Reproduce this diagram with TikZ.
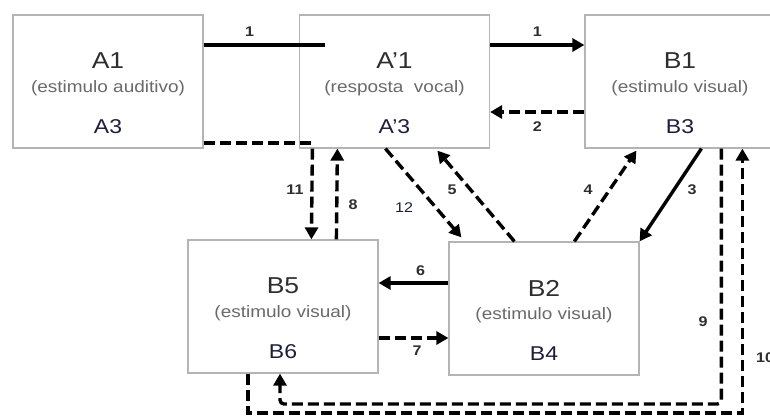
\documentclass[tikz,border=0pt]{standalone}
\usepackage{fontspec}
\setmainfont{Liberation Sans}[FakeStretch=1.15]
\usetikzlibrary{arrows.meta}
\definecolor{boxgray}{HTML}{B4B4B4}
\definecolor{titlegray}{HTML}{2E2E2E}
\definecolor{subgray}{HTML}{6A6A6A}
\definecolor{codeblue}{HTML}{1E1E3C}
\begin{document}
\begin{tikzpicture}[x=1pt,y=1pt,
  box/.style={draw=boxgray,line width=1.2pt,fill=white,minimum width=190pt,minimum height=133pt,inner sep=0pt},
  title/.style={text=titlegray,font=\fontsize{23}{25}\selectfont,inner sep=0pt},
  sub/.style={text=subgray,font=\fontsize{16.5}{18}\selectfont,inner sep=0pt},
  code/.style={text=codeblue,font=\fontsize{20}{22}\selectfont,inner sep=0pt},
  num/.style={text=titlegray,font=\fontsize{14}{15}\selectfont\bfseries,inner sep=1pt},
  fullline/.style={line width=3.4pt},
  dashline/.style={line width=3.4pt,dash pattern=on 11pt off 5pt},
  tip/.style={-{Triangle[length=12pt,width=13pt]}}]
  \useasboundingbox (0,0) rectangle (770,416);
  \clip (0,0) rectangle (770,416);

  \node[box] (A1) at (108,334.5) {};
  \node[box] (Ap1) at (394.5,334.5) {};
  \node[box] (B1) at (680,334.5) {};
  \node[box] (B5) at (283,109.5) {};
  \node[box] (B2) at (544,107.5) {};

  \foreach \n/\t/\s/\c in {A1/A1/{(estimulo auditivo)}/A3, Ap1/A'1/{(resposta\ \ vocal)}/A'3,
      B1/B1/{(estimulo visual)}/B3, B5/B5/{(estimulo visual)}/B6, B2/B2/{(estimulo visual)}/B4}{
    \node[title] (\n-t) at ([yshift=20.5pt]\n.center) {\t};
    \node[sub] (\n-s) at ([yshift=-6.5pt]\n.center) {\s};
    \node[code] (\n-c) at ([yshift=-45.5pt]\n.center) {\c};
  }

  % first row
  \draw[fullline] ([yshift=36.5pt]A1.east) -- ([xshift=26pt,yshift=36.5pt]Ap1.west) node[num,above=6pt,pos=0.38] (l1a) {1};
  \draw[fullline,tip] ([yshift=36.5pt]Ap1.east) -- ([yshift=36.5pt]B1.west) node[num,above=6pt,midway] (l1b) {1};
  \draw[dashline,tip] ([yshift=-30.5pt]B1.west) -- ([yshift=-30.5pt]Ap1.east) node[num,below=7pt,midway] (l2) {2};
  \draw[dashline] ([yshift=-61.5pt]A1.east) -- ([xshift=13.5pt,yshift=-61.5pt]Ap1.west);

  % between the rows
  \draw[dashline,tip] ([xshift=13.5pt]Ap1.south west) -- ([xshift=124pt]B5.north west);
  \node[num] (l11) at (295,226) {11};
  \draw[dashline,tip] ([xshift=149pt]B5.north west) -- ([xshift=38.5pt]Ap1.south west);
  \node[num] (l8) at (353,211) {8};
  \draw[dashline,tip] ([xshift=86.5pt]Ap1.south west) -- ([xshift=13pt,yshift=4pt]B2.north west);
  \node[num,font=\fontsize{14}{15}\selectfont,text=codeblue] (l12) at (404,208) {12};
  \draw[dashline,tip] ([xshift=66pt]B2.north west) -- ([xshift=138.5pt,yshift=-2pt]Ap1.south west);
  \node[num] (l5) at (452,226) {5};
  \draw[dashline,tip] ([xshift=126pt]B2.north west) -- ([xshift=52pt,yshift=-2pt]B1.south west);
  \node[num] (l4) at (588,226) {4};
  \draw[fullline,tip] ([xshift=117pt]B1.south west) -- (B2.north east);
  \node[num] (l3) at (692,226) {3};

  % second row
  \draw[fullline,tip] ([yshift=25.5pt]B2.west) -- ([yshift=25.5pt]B2.west -| B5.east) node[num,above=5pt,pos=0.4] (l6) {6};
  \draw[dashline,tip] ([yshift=-31.5pt]B5.east) -- ([yshift=-31.5pt]B5.east -| B2.west) node[num,below=5pt,pos=0.55] (l7) {7};

  % return paths along the bottom
  \coordinate (c9) at (280,12);
  \coordinate (c10) at (248,3);
  \draw[dashline,tip,rounded corners=4pt] ([xshift=137pt]B1.south west) |- (c9) -- (c9 |- B5.south);
  \node[num] (l9) at (703,94) {9};
  \draw[dashline,tip] (c10 |- B5.south) -- (c10) -| ([xshift=158pt]B1.south west);
  \node[num,anchor=west] (l10) at (755,58) {10};
\end{tikzpicture}
\end{document}
